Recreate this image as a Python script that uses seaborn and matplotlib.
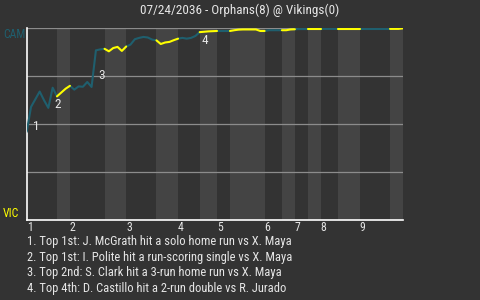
import numpy as np
import pandas as pd
import matplotlib
matplotlib.use("Agg")
import matplotlib.pyplot as plt
import matplotlib.transforms as mtransforms
from matplotlib import font_manager
import seaborn as sns

# ---------------- data ----------------
title = "07/24/2036 - Orphans(8) @ Vikings(0)"
away_abbr = "CAM"
home_abbr = "VIC"
away_color = "#1f5f6e"
home_color = "#ffff00"
innings = ["1", "2", "3", "4", "5", "6", "7", "8", "9"]

start_wp = 0.46
top1 = [0.59, 0.63, 0.67, 0.625, 0.585, 0.69, 0.645]
bot1 = [0.665, 0.685, 0.70]
top2 = [0.68, 0.697, 0.695, 0.72, 0.694, 0.885, 0.89, 0.893]
bot2 = [0.88, 0.897, 0.903, 0.882, 0.905]
top3 = [0.915, 0.943, 0.95, 0.955, 0.952, 0.941, 0.937]
bot3 = [0.918, 0.926, 0.929, 0.938, 0.946]
top4 = [0.95, 0.946, 0.95, 0.96, 0.98]
bot4 = [0.982, 0.984, 0.985, 0.986]
top5 = [0.986, 0.986, 0.986]
bot5 = [0.99, 0.993, 0.994, 0.994, 0.994, 0.994, 0.986, 0.986]
top6 = [0.99, 0.99, 0.99, 0.99]
bot6 = [0.99, 0.994, 0.995]
top7 = [0.996, 0.996, 0.996]
bot7 = [0.996, 0.996, 0.996]
top8 = [0.997, 0.997, 0.997, 0.997]
bot8 = [0.997, 0.997, 0.997, 0.997, 0.997]
top9 = [0.997, 0.997, 0.997, 0.997, 0.997, 0.997, 0.997]
bot9 = [0.997, 0.997, 1.0]

half_innings = [top1, bot1, top2, bot2, top3, bot3, top4, bot4, top5,
                bot5, top6, bot6, top7, bot7, top8, bot8, top9, bot9]

event_idx = [1, 6, 16, 40]
events = [
    "1. Top 1st: J. McGrath hit a solo home run vs X. Maya",
    "2. Top 1st: I. Polite hit a run-scoring single vs X. Maya",
    "3. Top 2nd: S. Clark hit a 3-run home run vs X. Maya",
    "4. Top 4th: D. Castillo hit a 2-run double vs R. Jurado",
]

# ---------------- style ----------------
bg = "#333333"
band_light = "#444444"
txt = "#e6e6e6"
grid_c = "#8c8c8c"

sns.set_theme(style="dark", rc={"figure.facecolor": bg, "axes.facecolor": bg})
avail = {f.name for f in font_manager.fontManager.ttflist}
fam = "DejaVu Sans"
for cand in ["Roboto Condensed", "Liberation Sans Narrow", "Open Sans Condensed", "Roboto"]:
    if cand in avail:
        fam = cand
        break
plt.rcParams["font.family"] = [fam, "DejaVu Sans"]

# build long data
rows = []
starts = []
pos = 0
prev = start_wp
all_wp = [start_wp]
for k, vals in enumerate(half_innings):
    team = away_abbr if k % 2 == 0 else home_abbr
    starts.append(pos)
    rows.append({"x": pos, "wp": prev, "half": k, "team": team})
    for j, v in enumerate(vals):
        rows.append({"x": pos + j + 1, "wp": v, "half": k, "team": team})
        all_wp.append(v)
    pos += len(vals)
    prev = vals[-1]
total = pos
df = pd.DataFrame(rows)

fig = plt.figure(figsize=(4.8, 3.0), dpi=100)
fig.patch.set_facecolor(bg)
ax = fig.add_axes([26.7 / 480, 1 - 220 / 300, (403 - 26.7) / 480, (220 - 28.3) / 300])
ax.set_facecolor(bg)

for k, s in enumerate(starts):
    e = starts[k + 1] if k + 1 < len(starts) else total
    if k % 2 == 1:
        ax.axvspan(s, e, color=band_light, lw=0, zorder=0)

for g in [0.25, 0.5, 0.75, 1.0]:
    ax.axhline(g, color=grid_c, lw=0.9, zorder=1)

sns.lineplot(data=df, x="x", y="wp", hue="team", units="half", estimator=None,
             palette={away_abbr: away_color, home_abbr: home_color}, sort=False,
             legend=False, lw=1.5, ax=ax, zorder=3)

ax.set_xlim(0, total)
ax.set_ylim(0, 1)
ax.set_xlabel("")
ax.set_ylabel("")
ax.grid(False)
for side in ["top", "right"]:
    ax.spines[side].set_visible(False)
for side in ["left", "bottom"]:
    ax.spines[side].set_visible(True)
    ax.spines[side].set_color("white")
    ax.spines[side].set_linewidth(1.2)

inning_starts = starts[0::2]
ax.set_xticks(inning_starts, innings)
shift = mtransforms.ScaledTranslation(2.5 / 100, 0, fig.dpi_scale_trans)
for lab in ax.get_xticklabels():
    lab.set_horizontalalignment("left")
    lab.set_color(txt)
    lab.set_fontsize(8.5)
    lab.set_transform(lab.get_transform() + shift)
ax.tick_params(axis="x", length=0, pad=1)
ax.set_yticks([])

# team labels
trans = mtransforms.blended_transform_factory(fig.transFigure, ax.transData)
ax.text(3 / 480, 1.0, away_abbr, transform=trans, color=away_color, fontsize=8.5,
        ha="left", va="top")
ax.text(3 / 480, 0.0, home_abbr, transform=trans, color=home_color, fontsize=8.5,
        ha="left", va="bottom")

# event markers
for n, idx in enumerate(event_idx):
    ymid = (all_wp[idx - 1] + all_wp[idx]) / 2
    ax.annotate(str(n + 1), xy=(idx, ymid), xytext=(1.5, -5), textcoords="offset points",
                ha="left", va="center", color=txt, fontsize=9.5, zorder=5)

fig.text(0.5, 1 - 10 / 300, title, ha="center", va="center", color=txt, fontsize=9.5)
for n, ev in enumerate(events):
    fig.text(27 / 480, 1 - (241.7 + 15.6 * n) / 300, ev, ha="left", va="center",
             color=txt, fontsize=9)

fig.savefig("out.png", dpi=100, facecolor=bg)
